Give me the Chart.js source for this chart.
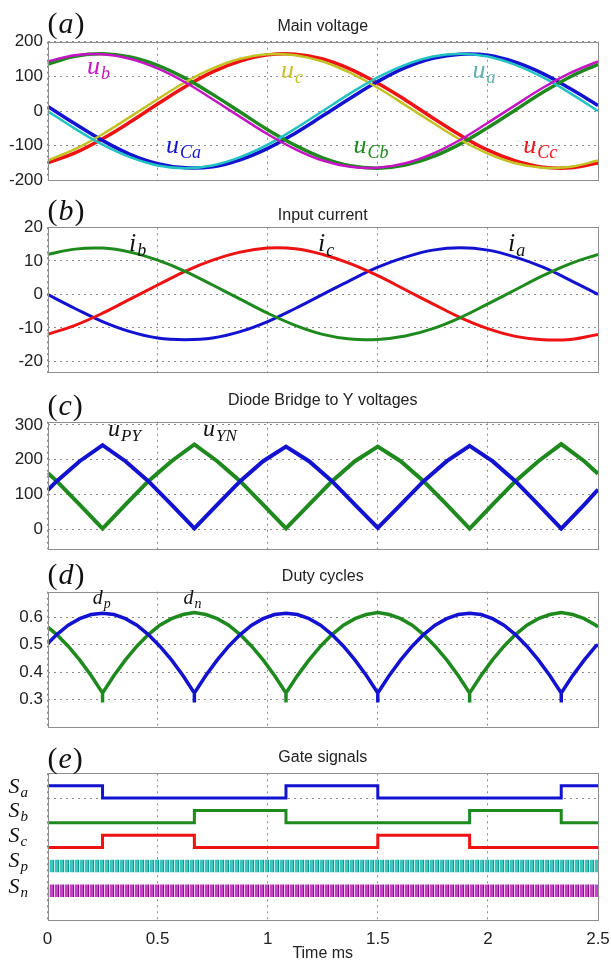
<!DOCTYPE html>
<html>
<head>
<meta charset="utf-8">
<script src="https://cdn.jsdelivr.net/npm/chart.js@4.4.1/dist/chart.umd.min.js"></script>
<style>
body { margin: 0; background: #fff; }
#wrap { position: relative; width: 611px; height: 964px; background: #fff; }
canvas { position: absolute; left: 0; }
</style>
</head>
<body>
<div id="wrap">
<canvas id="pa" width="611" height="195" style="top:0px"></canvas>
<canvas id="pb" width="611" height="193" style="top:195px"></canvas>
<canvas id="pc" width="611" height="176" style="top:388px"></canvas>
<canvas id="pd" width="611" height="178" style="top:564px"></canvas>
<canvas id="pe" width="611" height="222" style="top:742px"></canvas>
</div>
<script>
// ---- data (time in ms) ----
var timeTicks = [0, 0.5, 1, 1.5, 2, 2.5];

// (a) main voltages and (b) input currents
var timeAB = [0, 0.125, 0.25, 0.375, 0.5, 0.625, 0.75, 0.875, 1, 1.125, 1.25, 1.375, 1.5, 1.625, 1.75, 1.875, 2, 2.125, 2.25, 2.375, 2.5];
var ua  = [0, -51, -97, -133, -157, -165, -157, -133, -97, -51, 0, 51, 97, 133, 157, 165, 157, 133, 97, 51, 0];
var ub  = [143, 161, 164, 151, 123, 83, 34, -17, -67, -110, -143, -161, -164, -151, -123, -83, -34, 17, 67, 110, 143];
var uc  = [-143, -110, -67, -17, 34, 83, 123, 151, 164, 161, 143, 110, 67, 17, -34, -83, -123, -151, -164, -161, -143];
var uCa = [14, -37, -85, -125, -152, -164, -161, -141, -108, -64, -14, 37, 85, 125, 152, 164, 161, 141, 108, 64, 16];
var uCb = [135, 158, 165, 156, 132, 95, 48, -3, -54, -99, -135, -158, -165, -156, -132, -95, -48, 3, 54, 99, 135];
var uCc = [-150, -121, -80, -32, 20, 70, 113, 144, 162, 164, 150, 121, 80, 32, -20, -70, -113, -144, -162, -164, -150];
var aTicks = [-200, -100, 0, 100, 200];

var ia = [0, -4.2, -8.1, -11.1, -13.0, -13.5, -13.0, -11.1, -8.1, -4.2, 0, 4.2, 8.1, 11.1, 13.2, 13.9, 13.2, 11.1, 8.1, 4.2, 0];
var ib = [11.9, 13.5, 13.8, 12.6, 10.2, 6.9, 2.8, -1.4, -5.6, -9.2, -11.9, -13.3, -13.4, -12.4, -10.2, -6.9, -2.8, 1.4, 5.6, 9.2, 11.9];
var ic = [-11.9, -9.2, -5.6, -1.4, 2.8, 6.9, 10.2, 12.6, 13.8, 13.6, 11.9, 9.2, 5.6, 1.4, -2.8, -6.9, -10.2, -12.5, -13.5, -13.4, -11.9];
var bTicks = [-20, -10, 0, 10, 20];

// (c) diode bridge to Y voltages
var timeC = [0, 0.042, 0.146, 0.25, 0.354, 0.458, 0.563, 0.667, 0.771, 0.875, 0.979, 1.083, 1.188, 1.292, 1.396, 1.5, 1.604, 1.708, 1.813, 1.917, 2.021, 2.125, 2.229, 2.333, 2.438, 2.5];
var uPY = [113, 139, 196, 242, 196, 139, 72, 4, 72, 139, 196, 238, 196, 139, 72, 5, 72, 139, 196, 240, 196, 139, 72, 3, 72, 115];
var uYN = [163, 139, 72, 3, 72, 139, 196, 244, 196, 139, 72, 4, 72, 139, 196, 238, 196, 139, 72, 3, 72, 139, 196, 245, 196, 160];
var cTicks = [0, 100, 200, 300];

// (d) duty cycles (cusp times repeated for the short downward spikes)
var timeD = [0,
  0.042, 0.094, 0.146, 0.198,
  0.25, 0.25, 0.25,
  0.302, 0.354, 0.406, 0.458, 0.510, 0.563, 0.615,
  0.667, 0.667, 0.667,
  0.719, 0.771, 0.823, 0.875, 0.927, 0.979, 1.031,
  1.083, 1.083, 1.083,
  1.135, 1.188, 1.240, 1.292, 1.344, 1.396, 1.448,
  1.5, 1.5, 1.5,
  1.552, 1.604, 1.656, 1.708, 1.760, 1.813, 1.865,
  1.917, 1.917, 1.917,
  1.969, 2.021, 2.073, 2.125, 2.177, 2.229, 2.281,
  2.333, 2.333, 2.333,
  2.385, 2.438, 2.490,
  2.5];
var dp = [0.504,
  0.537, 0.571, 0.595, 0.610,
  0.615, 0.615, 0.615,
  0.610, 0.595, 0.571, 0.537, 0.495, 0.445, 0.388,
  0.325, 0.29, 0.325,
  0.388, 0.445, 0.495, 0.537, 0.571, 0.595, 0.610,
  0.615, 0.615, 0.615,
  0.610, 0.595, 0.571, 0.537, 0.495, 0.445, 0.388,
  0.325, 0.29, 0.325,
  0.388, 0.445, 0.495, 0.537, 0.571, 0.595, 0.610,
  0.615, 0.615, 0.615,
  0.610, 0.595, 0.571, 0.537, 0.495, 0.445, 0.388,
  0.325, 0.29, 0.325,
  0.388, 0.445, 0.495,
  0.500];
var dn = [0.565,
  0.537, 0.495, 0.445, 0.388,
  0.325, 0.29, 0.325,
  0.388, 0.445, 0.495, 0.537, 0.571, 0.595, 0.610,
  0.617, 0.617, 0.617,
  0.610, 0.595, 0.571, 0.537, 0.495, 0.445, 0.388,
  0.325, 0.29, 0.325,
  0.388, 0.445, 0.495, 0.537, 0.571, 0.595, 0.610,
  0.617, 0.617, 0.617,
  0.610, 0.595, 0.571, 0.537, 0.495, 0.445, 0.388,
  0.325, 0.29, 0.325,
  0.388, 0.445, 0.495, 0.537, 0.571, 0.595, 0.610,
  0.617, 0.617, 0.617,
  0.610, 0.595, 0.571,
  0.565];
var dTicks = [0.3, 0.4, 0.5, 0.6];

// (e) gate signals: state held from each switching time to the next
var switchTimes = [0, 0.25, 0.667, 1.083, 1.5, 1.917, 2.333, 2.5];
var sa = [1, 0, 0, 1, 0, 0, 1, 1];
var sb = [0, 0, 1, 0, 0, 1, 0, 0];
var sc = [0, 1, 0, 0, 1, 0, 0, 0];
var pwmSpan = [0, 2.5];
var eTicks = [10];

// ---- helpers ----
var gateOffset = { a: 10, b: 8, c: 6, p: 4, n: 2 };

function pts(t, v, off) {
  return t.map(function (x, i) { return { x: x, y: v[i] + (off || 0) }; });
}

function stripes(base, dark, light) {
  var p = document.createElement('canvas');
  p.width = 5; p.height = 4;
  var g = p.getContext('2d');
  g.fillStyle = base; g.fillRect(0, 0, 5, 4);
  g.fillStyle = dark; g.fillRect(3, 0, 1, 4);
  g.fillStyle = light; g.fillRect(4, 0, 1, 4);
  return g.createPattern(p, 'repeat');
}

function line(data, color, width, extra) {
  var d = { data: data, borderColor: color, borderWidth: width, pointRadius: 0, fill: false, tension: 0 };
  for (var k in extra) d[k] = extra[k];
  return d;
}

function mathText(ctx, x, y, base, sub, size, subSize, color) {
  ctx.fillStyle = color;
  ctx.textAlign = 'left';
  ctx.textBaseline = 'alphabetic';
  ctx.font = 'italic ' + size + 'px "Liberation Serif"';
  ctx.fillText(base, x, y);
  var w = ctx.measureText(base).width;
  ctx.font = 'italic ' + subSize + 'px "Liberation Serif"';
  ctx.fillText(sub, x + w + 1, y + size * 0.2);
}

var decor = {
  id: 'decor',
  afterDraw: function (chart, args, o) {
    var ctx = chart.ctx, a = chart.chartArea;
    var xs = chart.scales.x, ys = chart.scales.y;
    ctx.save();
    ctx.strokeStyle = '#8e8e8e';
    ctx.lineWidth = 1;
    ctx.strokeRect(Math.round(a.left) + 0.5, Math.round(a.top) + 0.5,
      Math.round(a.right - a.left) - 1, Math.round(a.bottom - a.top) - 1);

    ctx.fillStyle = '#222';
    ctx.font = '16px "Liberation Sans"';
    ctx.textAlign = 'center';
    ctx.textBaseline = 'middle';
    ctx.fillText(o.title, (a.left + a.right) / 2, a.top - o.titleGap);

    // panel letter, e.g. (a)
    var lx = a.left, ly = a.top - o.letterGap;
    ctx.textAlign = 'left';
    ctx.textBaseline = 'alphabetic';
    ctx.fillStyle = '#111';
    ctx.font = '30px "Liberation Serif"';
    ctx.fillText('(', lx, ly);
    lx += ctx.measureText('(').width;
    ctx.font = 'italic 30px "Liberation Serif"';
    ctx.fillText(o.letter, lx + 1, ly);
    lx += ctx.measureText(o.letter).width + 2;
    ctx.font = '30px "Liberation Serif"';
    ctx.fillText(')', lx, ly);

    (o.labels || []).forEach(function (l) {
      mathText(ctx, xs.getPixelForValue(l.x), ys.getPixelForValue(l.y),
        l.t, l.s, o.size, o.subSize, l.c || '#111');
    });
    ctx.restore();
  }
};

function makeChart(id, datasets, yMin, yMax, yTicks, pad, xHeight, showX, showY, deco) {
  return new Chart(document.getElementById(id), {
    type: 'line',
    data: { datasets: datasets },
    plugins: [decor],
    options: {
      responsive: false,
      animation: false,
      devicePixelRatio: 1,
      layout: { padding: { top: pad[0], bottom: pad[1], left: 0, right: 13 } },
      plugins: { legend: { display: false }, tooltip: { enabled: false }, decor: deco },
      scales: {
        x: {
          type: 'linear', min: 0, max: 2.5,
          afterBuildTicks: function (s) { s.ticks = timeTicks.map(function (v) { return { value: v }; }); },
          afterFit: function (s) { s.height = xHeight; s.paddingLeft = 0; s.paddingRight = 0; },
          grid: { color: '#8a8a8a', lineWidth: 1, drawTicks: false },
          border: { display: false, dash: [2, 4] },
          ticks: { display: showX, padding: 7, color: '#222', font: { family: 'Liberation Sans', size: 17 },
                   callback: function (v) { return String(v); } },
          title: { display: showX, text: 'Time ms', color: '#222', padding: { top: 0, bottom: 1 },
                   font: { family: 'Liberation Sans', size: 16 } }
        },
        y: {
          min: yMin, max: yMax,
          afterBuildTicks: function (s) { s.ticks = yTicks.map(function (v) { return { value: v }; }); },
          afterFit: function (s) { s.width = 47.5; },
          grid: { color: '#8a8a8a', lineWidth: 1, drawTicks: false },
          border: { display: false, dash: [2, 4] },
          ticks: { display: showY, padding: 4.5, color: '#222', font: { family: 'Liberation Sans', size: 17 } }
        }
      }
    }
  });
}

var BLUE = '#1212d0', GREEN = '#1e8a1e', RED = '#ee1212', CYAN = '#22c2c2', MAGENTA = '#c414c4', YELLOW = '#c2c224';

// (a)
makeChart('pa', [
  line(pts(timeAB, ub), MAGENTA, 2.5, { tension: 0.4 }),
  line(pts(timeAB, ua), CYAN, 2.5, { tension: 0.4 }),
  line(pts(timeAB, uc), YELLOW, 2.5, { tension: 0.4 }),
  line(pts(timeAB, uCb), GREEN, 3.5, { tension: 0.4 }),
  line(pts(timeAB, uCa), BLUE, 3.5, { tension: 0.4 }),
  line(pts(timeAB, uCc), RED, 3.5, { tension: 0.4 })
], -200, 200, aTicks, [41.7, 6.7], 0, false, true, {
  title: 'Main voltage', titleGap: 15, letter: 'a', letterGap: 9, size: 26, subSize: 18,
  labels: [
    { t: 'u', s: 'b', x: 0.179, y: 106, c: '#c414c4' },
    { t: 'u', s: 'c', x: 1.06, y: 95, c: '#c8c030' },
    { t: 'u', s: 'a', x: 1.93, y: 95, c: '#5fb0b0' },
    { t: 'u', s: 'Ca', x: 0.538, y: -120, c: '#1515cc' },
    { t: 'u', s: 'Cb', x: 1.39, y: -120, c: '#1e8a1e' },
    { t: 'u', s: 'Cc', x: 2.161, y: -120, c: '#ee1515' }
  ]
});

// (b)
makeChart('pb', [
  line(pts(timeAB, ib), GREEN, 3, { tension: 0.4 }),
  line(pts(timeAB, ic), RED, 3, { tension: 0.4 }),
  line(pts(timeAB, ia), BLUE, 3, { tension: 0.4 })
], -23.5, 20, bTicks, [32.3, 2], 0, false, true, {
  title: 'Input current', titleGap: 12, letter: 'b', letterGap: 7, size: 26, subSize: 18,
  labels: [
    { t: 'i', s: 'b', x: 0.37, y: 13 },
    { t: 'i', s: 'c', x: 1.228, y: 13 },
    { t: 'i', s: 'a', x: 2.091, y: 13 }
  ]
});

// (c)
makeChart('pc', [
  line(pts(timeC, uPY), BLUE, 4),
  line(pts(timeC, uYN), GREEN, 4)
], -56, 309, cTicks, [33.7, 7.3], 0, false, true, {
  title: 'Diode Bridge to Y voltages', titleGap: 21, letter: 'c', letterGap: 7, size: 24, subSize: 17,
  labels: [
    { t: 'u', s: 'PY', x: 0.275, y: 267 },
    { t: 'u', s: 'YN', x: 0.706, y: 267 }
  ]
});

// (d)
makeChart('pd', [
  line(pts(timeD, dp), BLUE, 3.5),
  line(pts(timeD, dn), GREEN, 3.5)
], 0.2, 0.693, dTicks, [27.7, 4.7], 0, false, true, {
  title: 'Duty cycles', titleGap: 15, letter: 'd', letterGap: 8, size: 20, subSize: 14,
  labels: [
    { t: 'd', s: 'p', x: 0.205, y: 0.648 },
    { t: 'd', s: 'n', x: 0.618, y: 0.648 }
  ]
});

// (e)
var bandSp = pwmSpan.map(function (x) { return { x: x, y: gateOffset.p + 1 }; });
var bandSn = pwmSpan.map(function (x) { return { x: x, y: gateOffset.n + 1 }; });
makeChart('pe', [
  line(pts(switchTimes, sa, gateOffset.a), BLUE, 3, { stepped: 'before' }),
  line(pts(switchTimes, sb, gateOffset.b), GREEN, 3, { stepped: 'before' }),
  line(pts(switchTimes, sc, gateOffset.c), RED, 3, { stepped: 'before' }),
  line(bandSp, 'rgba(0,0,0,0)', 1, { fill: { value: gateOffset.p }, backgroundColor: stripes('#3ec6be', '#179a92', '#c4eeea') }),
  line(bandSn, 'rgba(0,0,0,0)', 1, { fill: { value: gateOffset.n }, backgroundColor: stripes('#c246c2', '#8c108c', '#f2c6f2') })
], 0, 12, eTicks, [31.3, 0], 42.3, true, false, {
  title: 'Gate signals', titleGap: 16, letter: 'e', letterGap: 5, size: 22, subSize: 15,
  labels: [
    { t: 'S', s: 'a', x: -0.177, y: 10.4 },
    { t: 'S', s: 'b', x: -0.177, y: 8.47 },
    { t: 'S', s: 'c', x: -0.177, y: 6.44 },
    { t: 'S', s: 'p', x: -0.177, y: 4.42 },
    { t: 'S', s: 'n', x: -0.177, y: 2.32 }
  ]
});
</script>
</body>
</html>
